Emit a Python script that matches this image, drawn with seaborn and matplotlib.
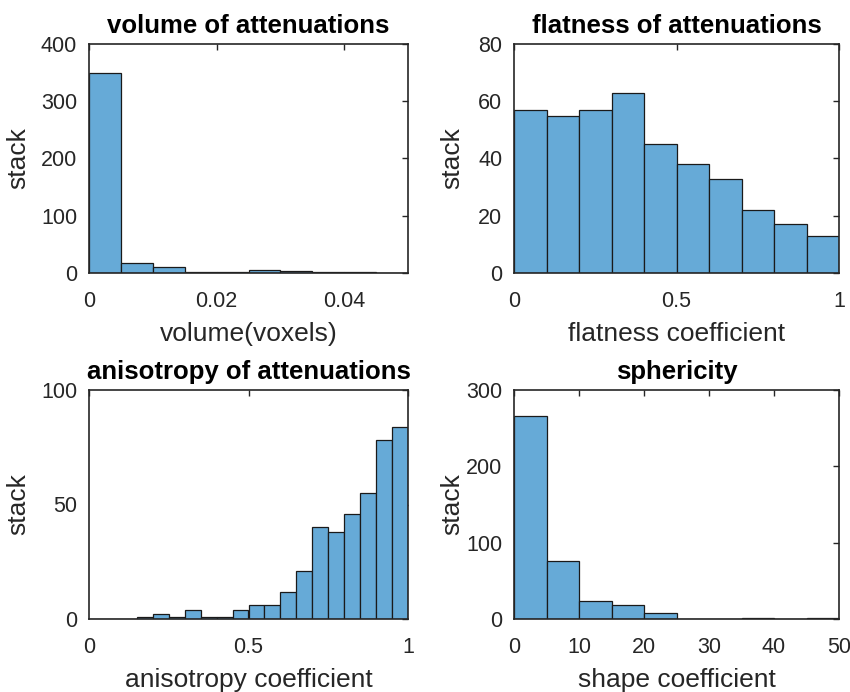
import numpy as np
import pandas as pd
import matplotlib
matplotlib.use("Agg")
import matplotlib.pyplot as plt
import seaborn as sns

# Bin counts for each histogram (equal-width bins)
volume_edges = np.linspace(0, 0.05, 11)
volume_counts = [350, 17, 10, 2, 2, 5, 3, 2, 1, 0]

flatness_edges = np.linspace(0, 1, 11)
flatness_counts = [57, 55, 57, 63, 45, 38, 33, 22, 17, 13]

anisotropy_edges = np.linspace(0, 1, 21)
anisotropy_counts = [0, 0, 0, 1, 2, 1, 4, 1, 1, 4,
                     6, 6, 12, 21, 40, 38, 46, 55, 78, 84]

sphericity_edges = np.linspace(0, 50, 11)
sphericity_counts = [266, 76, 24, 18, 8, 0, 0, 1, 0, 1]

titles = ["volume of attenuations", "flatness of attenuations",
          "anisotropy of attenuations", "sphericity"]
xlabels = ["volume(voxels)", "flatness coefficient",
           "anisotropy coefficient", "shape coefficient"]
ylabel = "stack"

sns.set_style("white")
plt.rcParams["font.family"] = ["Liberation Sans", "DejaVu Sans"]

FACE = "#66AAD7"
TXT = "#262626"

fig = plt.figure(figsize=(8.5, 6.92), dpi=100)
W, H = 850, 692
boxes = [(89, 44, 408, 273), (514, 44, 839, 273),
         (89, 390, 408, 619), (514, 390, 839, 619)]
# pixel column where the rotated y label's baseline side sits
ylabel_anchor = [30, 464, 30, 464]
axes = [fig.add_axes([x0 / W, 1 - y1 / H, (x1 - x0) / W, (y1 - y0) / H])
        for x0, y0, x1, y1 in boxes]

panels = [
    (volume_edges, volume_counts, (0, 0.05), [0, 0.02, 0.04], ["0", "0.02", "0.04"],
     (0, 400), [0, 100, 200, 300, 400]),
    (flatness_edges, flatness_counts, (0, 1), [0, 0.5, 1], ["0", "0.5", "1"],
     (0, 80), [0, 20, 40, 60, 80]),
    (anisotropy_edges, anisotropy_counts, (0, 1), [0, 0.5, 1], ["0", "0.5", "1"],
     (0, 100), [0, 50, 100]),
    (sphericity_edges, sphericity_counts, (0, 50), [0, 10, 20, 30, 40, 50],
     ["0", "10", "20", "30", "40", "50"], (0, 300), [0, 100, 200, 300]),
]

for i, (ax, (edges, counts, xlim, xt, xtl, ylim, yt), title, xl) in enumerate(
        zip(axes, panels, titles, xlabels)):
    df = pd.DataFrame({"center": (edges[:-1] + edges[1:]) / 2,
                       "count": np.asarray(counts, dtype=float)})
    sns.histplot(data=df, x="center", weights="count", bins=list(edges), ax=ax,
                 color=FACE, alpha=1.0, edgecolor="#1a1a1a", linewidth=0.9)
    ax.set_xlim(*xlim)
    ax.set_ylim(*ylim)
    ax.set_xticks(xt)
    ax.set_xticklabels(xtl)
    ax.set_yticks(yt)
    ax.set_yticklabels([str(v) for v in yt])
    ax.tick_params(direction="in", length=4, width=1.0, colors=TXT,
                   labelsize=15.5, top=True, right=True)
    ax.tick_params(axis="x", pad=13)
    ax.tick_params(axis="y", pad=8.5)
    for s in ax.spines.values():
        s.set_visible(True)
        s.set_color(TXT)
        s.set_linewidth(1.2)
    ax.set_title(title, fontsize=18.5, fontweight="bold", color="black", pad=8)
    ax.set_xlabel(xl, fontsize=19, color=TXT, labelpad=7)
    ax.set_ylabel(ylabel, fontsize=19, color=TXT)
    x0, y0, x1, y1 = boxes[i]
    ax.yaxis.set_label_coords((ylabel_anchor[i] - x0) / (x1 - x0), 0.5)

fig.savefig("out.png", dpi=100, facecolor="white")
